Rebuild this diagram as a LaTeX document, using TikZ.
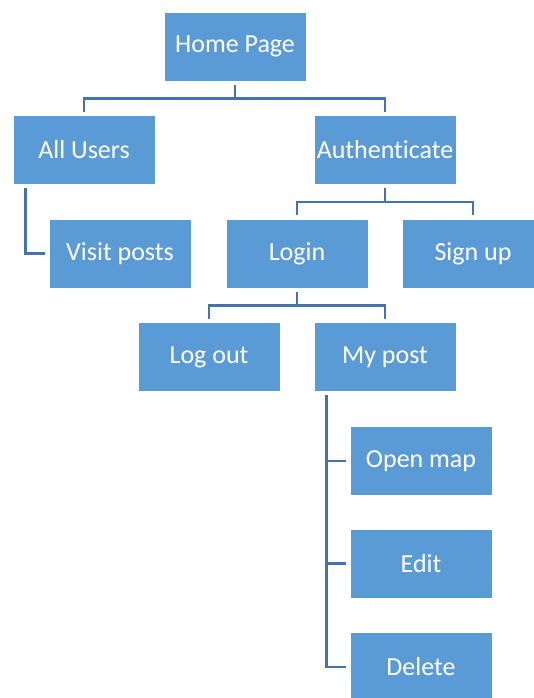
\documentclass[tikz,border=0pt]{standalone}
\usepackage{fontspec}
\setmainfont{Carlito}[Ligatures=NoCommon]
\usetikzlibrary{positioning}

\definecolor{boxblue}{RGB}{91,155,213}
\definecolor{linkblue}{RGB}{68,114,170}

\tikzset{
  page/.style={draw=white, line width=0.8pt, fill=boxblue, text=white,
    minimum width=142pt, minimum height=69pt, inner sep=0pt,
    font=\fontsize{26}{31}\selectfont},
  link/.style={linkblue, line width=2.8pt, shorten <=3.5pt, shorten >=3.5pt}
}

\begin{document}
\begin{tikzpicture}[x=1pt,y=-1pt]
\useasboundingbox (0,0) rectangle (533,698);

% Boxes
\node[page] (home)    at (235,46.5)  {Home Page};
\node[page] (users)   at (84,150)    {All Users};
\node[page] (auth)    at (385,150)   {Authenticate};
\node[page] (visit)   at (120,253.5) {Visit posts};
\node[page] (login)   at (297,253.5) {Login};
\node[page] (signup)  at (473,253.5) {Sign up};
\node[page] (logout)  at (209,357)   {Log out};
\node[page] (mypost)  at (385,357)   {My post};
\node[page] (openmap) at (421,461)   {Open map};
\node[page] (edit)    at (421,563.5) {Edit};
\node[page] (delete)  at (421,667)   {Delete};

% Lines
\draw[link] (home.south) -- ++(0,17) -| (users.north);
\draw[link] (home.south) -- ++(0,17) -| (auth.north);
\draw[link] (auth.south) -- ++(0,17) -| (login.north);
\draw[link] (auth.south) -- ++(0,17) -| (signup.north);
\draw[link] (login.south) -- ++(0,17) -| (logout.north);
\draw[link] (login.south) -- ++(0,17) -| (mypost.north);
\draw[link] (users.south west) ++(13,0) |- (visit.west);
\draw[link] (mypost.south west) ++(13,0) |- (openmap.west);
\draw[link] (mypost.south west) ++(13,0) |- (edit.west);
\draw[link] (mypost.south west) ++(13,0) |- (delete.west);

\end{tikzpicture}
\end{document}
